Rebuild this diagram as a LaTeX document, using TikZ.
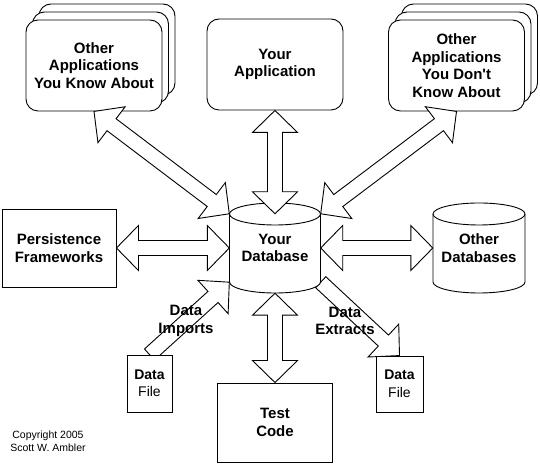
\documentclass[tikz,border=0pt]{standalone}
\usepackage{fontspec}
\setmainfont{Liberation Sans}
\usetikzlibrary{calc,shadows,backgrounds}

\newcommand{\dblarrow}[2]{%
  \draw[blockarrow] (#1)
    -- ($(#1)!22pt!(#2)!22.5pt!90:(#2)$)
    -- ($(#1)!22pt!(#2)!7.5pt!90:(#2)$)
    -- ($(#2)!22pt!(#1)!7.5pt!-90:(#1)$)
    -- ($(#2)!22pt!(#1)!22.5pt!-90:(#1)$)
    -- (#2)
    -- ($(#2)!22pt!(#1)!22.5pt!90:(#1)$)
    -- ($(#2)!22pt!(#1)!7.5pt!90:(#1)$)
    -- ($(#1)!22pt!(#2)!7.5pt!-90:(#2)$)
    -- ($(#1)!22pt!(#2)!22.5pt!-90:(#2)$)
    -- cycle;}
\newcommand{\sglarrow}[2]{%
  \draw[blockarrow] ($(#1)!7.5pt!90:(#2)$)
    -- ($(#2)!22pt!(#1)!7.5pt!-90:(#1)$)
    -- ($(#2)!22pt!(#1)!22.5pt!-90:(#1)$)
    -- (#2)
    -- ($(#2)!22pt!(#1)!22.5pt!90:(#1)$)
    -- ($(#2)!22pt!(#1)!7.5pt!90:(#1)$)
    -- ($(#1)!7.5pt!-90:(#2)$)
    -- cycle;}

\begin{document}
\begin{tikzpicture}[x=1pt,y=1pt,
    box/.style={draw, fill=white, line width=0.9pt, inner sep=0pt, align=center,
      font=\bfseries\fontsize{15}{17.5}\selectfont},
    appbox/.style={box, rounded corners=12pt, minimum width=136pt, minimum height=91pt},
    appstack/.style={appbox,
      copy shadow={shadow xshift=13pt, shadow yshift=16pt, fill=white, draw=black},
      copy shadow={shadow xshift=6.5pt, shadow yshift=8pt, fill=white, draw=black}},
    filebox/.style={box, font=\bfseries\fontsize{14}{17.5}\selectfont},
    cyl/.style={draw, fill=white, line width=0.9pt},
    dbtext/.style={inner sep=0pt, align=center, minimum height=68pt,
      font=\bfseries\fontsize{15}{17.5}\selectfont},
    lbl/.style={align=center, font=\bfseries\fontsize{15}{17.5}\selectfont},
    blockarrow/.style={draw, fill=white, line width=0.9pt}]
    \useasboundingbox (0,0) rectangle (540,465);
    \begin{pgfonlayer}{background}
      \fill[white] (0,0) rectangle (540,465);
    \end{pgfonlayer}

    %% Applications
    \node[appstack] (known) at (94,399.5) {Other\\Applications\\You Know About};
    \node[appbox] (app) at (275,400.5) {Your\\Application};
    \node[appstack] (dontknow) at (456.5,399.5) {Other\\Applications\\You Don\textquotesingle t\\Know About};

    %% Boxes
    \node[box, minimum width=114pt, minimum height=78pt] (pers) at (59,217) {Persistence\\Frameworks};
    \node[box, minimum width=115pt, minimum height=79pt] (test) at (275,42.5) {Test\\Code};
    \node[filebox, minimum width=45pt, minimum height=57pt] (dfl) at (149.5,81.5) {Data\\{\mdseries File}};
    \node[filebox, minimum width=47pt, minimum height=56pt] (dfr) at (399.5,81) {Data\\{\mdseries File}};

    %% Your Database
    \draw[cyl] (229.5,251) -- (229.5,183) arc[start angle=180, end angle=360, x radius=45.5, y radius=11]
      -- (320.5,251) arc[start angle=0, end angle=180, x radius=45.5, y radius=11] -- cycle;
    \draw[cyl] (229.5,251) arc[start angle=180, end angle=360, x radius=45.5, y radius=11];
    \node[dbtext, minimum width=91pt] (db) at (275,217) {Your\\Database};

    %% Other Databases
    \draw[cyl] (433,251) -- (433,183) arc[start angle=180, end angle=360, x radius=46, y radius=11]
      -- (525,251) arc[start angle=0, end angle=180, x radius=46, y radius=11] -- cycle;
    \draw[cyl] (433,251) arc[start angle=180, end angle=360, x radius=46, y radius=11];
    \node[dbtext, minimum width=92pt] (odb) at (479,217) {Other\\Databases};

    %% Labels
    \node[lbl] (imports) at (186,144) {Data\\Imports};
    \node[lbl] (extracts) at (345,144) {Data\\Extracts};
    \node[align=center, font=\fontsize{10.5}{13}\selectfont] (copyright) at (48,23.5) {Copyright 2005\\Scott W. Ambler};

    %% Block arrows
    \coordinate (dbbot) at ([yshift=-11pt]db.south);
    \dblarrow{known.south}{db.north west}
    \dblarrow{app.south}{db.north}
    \dblarrow{dontknow.south}{db.north east}
    \dblarrow{pers.east}{db.west}
    \dblarrow{db.east}{odb.west}
    \dblarrow{dbbot}{test.north}
    \begin{pgfonlayer}{background}
      \sglarrow{dfl.north}{db.south west}
      \sglarrow{db.south east}{dfr.north}
    \end{pgfonlayer}
\end{tikzpicture}
\end{document}
